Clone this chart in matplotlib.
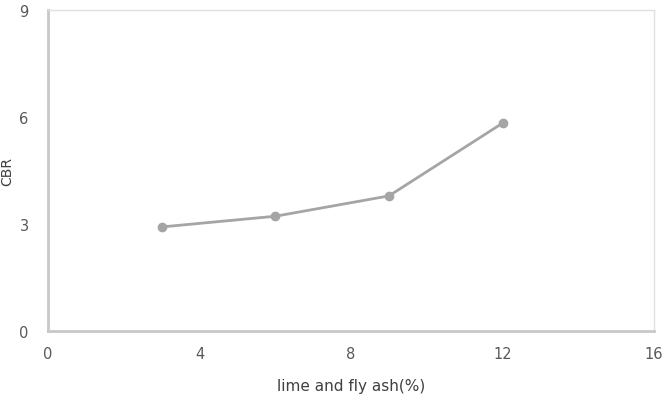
import matplotlib
matplotlib.use("Agg")
import matplotlib.pyplot as plt

# lime + fly ash content (%) vs CBR
additive = [3, 6, 9, 12]
cbr = [2.92, 3.22, 3.79, 5.83]
xticks = [0, 4, 8, 12, 16]
yticks = [0, 3, 6, 9]

fig = plt.figure(figsize=(6.65, 4.1), dpi=100)
ax = fig.add_axes([0.0722, 0.19, 0.9113, 0.783])

ax.plot(additive, cbr, color="#a5a5a5", linewidth=2, marker="o", markersize=6)

ax.set_xlim(0, 16)
ax.set_ylim(0, 9)
ax.set_xticks(xticks)
ax.set_yticks(yticks)
ax.tick_params(length=0, labelsize=10.5, colors="#595959", pad=14)
ax.tick_params(axis="x", pad=11)

for s in ["top", "right"]:
    ax.spines[s].set_color("#e0e0e0")
    ax.spines[s].set_linewidth(1)
for s in ["left", "bottom"]:
    ax.spines[s].set_color("#c8c8c8")
    ax.spines[s].set_linewidth(2)

ax.set_xlabel("lime and fly ash(%)", fontsize=11, color="#404040", labelpad=12)
ax.set_ylabel("CBR", fontsize=10, color="#404040")
ax.yaxis.set_label_coords(-0.055, 0.5)

fig.savefig("out.png", dpi=100)
